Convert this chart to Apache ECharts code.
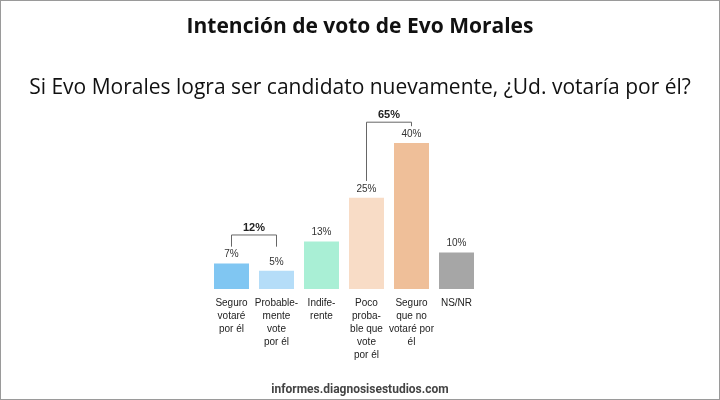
<!DOCTYPE html>
<html>
<head>
<meta charset="utf-8">
<script src="https://cdn.jsdelivr.net/npm/echarts@6/dist/echarts.min.js"></script>
<style>
  * { margin: 0; padding: 0; }
  html, body { width: 720px; height: 400px; background: #fff; overflow: hidden; }
  #chart { width: 718px; height: 398px; border: 1px solid #9a9a9a; }
</style>
</head>
<body>
<div id="chart"></div>
<script>
var categories = ['Seguro\nvotaré\npor él', 'Probable-\nmente\nvote\npor él', 'Indife-\nrente',
  'Poco\nproba-\nble que\nvote\npor él', 'Seguro\nque no\nvotaré por\nél', 'NS/NR'];
var values = [7, 5, 13, 25, 40, 10];
var colors = ['#80c6f2', '#b5ddf8', '#a9efd5', '#f8dcc6', '#efbf99', '#a6a6a6'];
// [from index, to index, top level, left foot, right foot, label]
var brackets = [
  [0, 1, 14.8, 11.6, 11.6, '12%'],
  [3, 4, 45.7, 29.6, 44.6, '65%']
];

var chart = echarts.init(document.getElementById('chart'));
chart.setOption({
  animation: false,
  title: [
    { text: 'Intención de voto de Evo Morales', left: 'center', top: 11,
      textStyle: { fontFamily: 'Open Sans', fontSize: 21, fontWeight: 'bold', color: '#111' } },
    { text: 'Si Evo Morales logra ser candidato nuevamente, ¿Ud. votaría por él?', left: 'center', top: 72,
      textStyle: { fontFamily: 'Open Sans', fontSize: 21, fontWeight: 'normal', color: '#111' } },
    { text: 'informes.diagnosisestudios.com', left: 'center', top: 378,
      textStyle: { fontFamily: 'Roboto', fontSize: 12, fontWeight: 'bold', color: '#444' } }
  ],
  grid: { left: 208, right: 240, top: 142, bottom: 110 },
  xAxis: {
    type: 'category', data: categories,
    axisLine: { show: false }, axisTick: { show: false },
    axisLabel: { interval: 0, margin: 8, fontFamily: 'Liberation Sans', fontSize: 10, lineHeight: 13, color: '#222' }
  },
  yAxis: { type: 'value', min: 0, max: 40, show: false, splitLine: { show: false } },
  series: [
    {
      type: 'bar', barWidth: 35,
      data: values.map(function (v, i) { return { value: v, itemStyle: { color: colors[i] } }; }),
      label: { show: true, position: 'top', distance: 4, formatter: '{c}%',
        fontFamily: 'Liberation Sans', fontSize: 10, color: '#333' }
    },
    {
      type: 'custom', clip: false, silent: true,
      data: brackets,
      renderItem: function (params, api) {
        var b = brackets[params.dataIndex];
        var l = api.coord([b[0], b[3]]), lt = api.coord([b[0], b[2]]);
        var r = api.coord([b[1], b[4]]), rt = api.coord([b[1], b[2]]);
        return {
          type: 'group',
          children: [
            { type: 'polyline', shape: { points: [l, lt, rt, r] },
              style: { stroke: '#666', lineWidth: 1, fill: null } },
            { type: 'text', x: (lt[0] + rt[0]) / 2, y: lt[1] - 2,
              style: { text: b[5], textAlign: 'center', textVerticalAlign: 'bottom',
                font: 'bold 11px "Liberation Sans"', fill: '#222' } }
          ]
        };
      }
    }
  ]
});
</script>
</body>
</html>
